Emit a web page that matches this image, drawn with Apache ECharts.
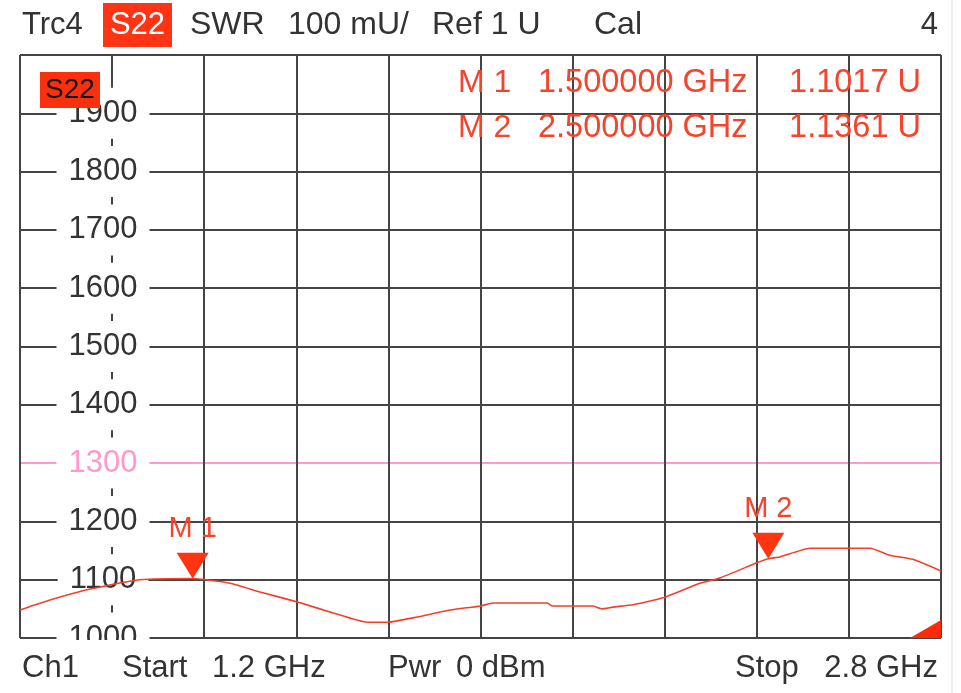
<!DOCTYPE html>
<html><head><meta charset="utf-8">
<script src="https://cdn.jsdelivr.net/npm/echarts@6/dist/echarts.min.js"></script>
<style>html,body{margin:0;padding:0;background:#fff}#c{width:961px;height:693px}</style>
</head><body><div id="c"></div>
<script>
// Sweep (GHz) and SWR (milli-units)
const freqGHz = [1.200,1.252,1.309,1.356,1.408,1.500,1.565,1.617,1.681,1.744,1.803,1.838,1.890,1.947,2.000,2.022,2.116,2.124,2.195,2.211,2.230,2.265,2.317,2.381,2.416,2.480,2.500,2.520,2.572,2.677,2.711,2.751,2.800];
const swrMilli = [1048,1065,1081,1091,1100,1102,1094,1079,1062,1043,1027,1027,1036,1048,1055,1060,1060,1055,1055,1050,1053,1057,1069,1094,1103,1129,1136,1139,1154,1154,1142,1135,1115];
// Markers
const markerNames = ['M 1','M 2'];
const markerFreq = [1.5, 2.5];
const markerSWR = [1.1017, 1.1361];
// Axes
const startGHz = 1.2, stopGHz = 2.8;
const yMin = 1000, yMax = 2000, yStep = 100;
const xDivisions = 10;
const limitValue = 1300;

const FONT = 'Liberation Sans, Arial, sans-serif';
const RED = '#f5432c';
const GRID = '#444';

const yTickCount = (yMax - yMin) / yStep + 1;
const splitColors = [];
for (let i = 0; i < yTickCount; i++) splitColors.push(yMin + i * yStep === limitValue ? '#ff99cc' : GRID);

const chart = echarts.init(document.getElementById('c'), null, {renderer:'canvas'});

function txt(text, x, y, color, size, align) {
  return {type:'text', x:x, y:y, z:20, silent:true,
    style:{text:text, fill:color, fontSize:size, fontFamily:FONT, align:align||'left', verticalAlign:'middle'}};
}

const graphics = [
  {type:'rect', left:0, top:640, z:15, shape:{width:961, height:53}, style:{fill:'#fff'}},
  {type:'line', z:15, shape:{x1:952, y1:0, x2:952, y2:693}, style:{stroke:'#dcdcdc', lineWidth:1}},
  // header
  txt('Trc4', 22, 25, '#333', 31),
  {type:'rect', x:103, y:3, z:19, shape:{width:69, height:44}, style:{fill:'#ff3414'}},
  txt('S22', 137.5, 25, '#fff', 31, 'center'),
  txt('SWR', 190, 25, '#333', 32),
  txt('100 mU/', 288, 25, '#333', 32),
  txt('Ref 1 U', 432, 25, '#333', 32),
  txt('Cal', 594, 25, '#333', 32),
  txt('4', 938, 25, '#333', 31, 'right'),
  // trace label
  {type:'rect', x:40, y:72, z:19, shape:{width:60, height:36}, style:{fill:'#f8300e'}},
  txt('S22', 70, 90, '#111', 28, 'center'),
  // footer
  txt('Ch1', 22, 668, '#333', 31),
  txt('Start', 122, 668, '#333', 31),
  txt(startGHz.toFixed(1) + ' GHz', 212, 668, '#333', 31),
  txt('Pwr', 388, 668, '#333', 31),
  txt('0 dBm', 456, 668, '#333', 31),
  txt('Stop', 735, 668, '#333', 31),
  txt(stopGHz.toFixed(1) + ' GHz', 938, 668, '#333', 31, 'right'),
  // out-of-range indicator
  {type:'polygon', right:20, bottom:55, z:18, shape:{points:[[0,18],[31,18],[31,0]]}, style:{fill:'#ff2a0a'}}
];
markerNames.forEach(function(n, i){
  const y = 83 + i * 45;
  graphics.push(txt(n, 458, y, RED, 32));
  graphics.push(txt(markerFreq[i].toFixed(6) + ' GHz', 538, y, RED, 32.5));
  graphics.push(txt(markerSWR[i].toFixed(4) + ' U', 921, y, RED, 32.5, 'right'));
});

chart.setOption({
  animation:false,
  backgroundColor:'#fff',
  grid:{left:20, right:20, top:55, bottom:55, containLabel:false, outerBoundsMode:'none'},
  xAxis:[
    {type:'value', min:startGHz, max:stopGHz, show:false},
    {type:'value', min:0, max:xDivisions, interval:1, position:'bottom', z:0,
      axisLine:{show:false}, axisTick:{show:false}, axisLabel:{show:false},
      splitLine:{show:true, lineStyle:{color:GRID, width:2}}}
  ],
  yAxis:[
    {type:'value', min:yMin, max:yMax, interval:yStep, position:'left', offset:-83, z:3,
      axisLine:{show:false}, axisTick:{show:false}, splitLine:{show:false},
      axisLabel:{showMaxLabel:false, align:'center', margin:0, fontSize:31, fontFamily:FONT,
        formatter:function(v){ return String(v); },
        color:function(v){ return Number(v) === limitValue ? '#ff99cc' : '#333'; },
        backgroundColor:'#fff', padding:[9,12,11,12]}},
    {type:'value', min:yMin, max:yMax, interval:yStep, position:'right', z:0,
      axisLine:{show:false}, axisTick:{show:false}, axisLabel:{show:false},
      splitLine:{show:true, lineStyle:{color:splitColors, width:2}}}
  ],
  series:[{
    type:'line', xAxisIndex:0, yAxisIndex:0, z:5,
    data: freqGHz.map(function(f, i){ return [f, swrMilli[i]]; }),
    symbol:'none', smooth:0.15,
    lineStyle:{color:'#f2402c', width:1.6},
    markPoint:{
      symbol:'triangle', symbolRotate:180, symbolSize:[32,26], symbolOffset:[0,'-50%'],
      itemStyle:{color:'#ff3410'},
      label:{show:true, position:'top', distance:9, color:RED, fontSize:29, fontFamily:FONT, formatter:'{b}'},
      data: markerNames.map(function(n, i){ return {name:n, coord:[markerFreq[i], markerSWR[i]*1000]}; })
    }
  }],
  graphic: graphics
});
</script></body></html>
